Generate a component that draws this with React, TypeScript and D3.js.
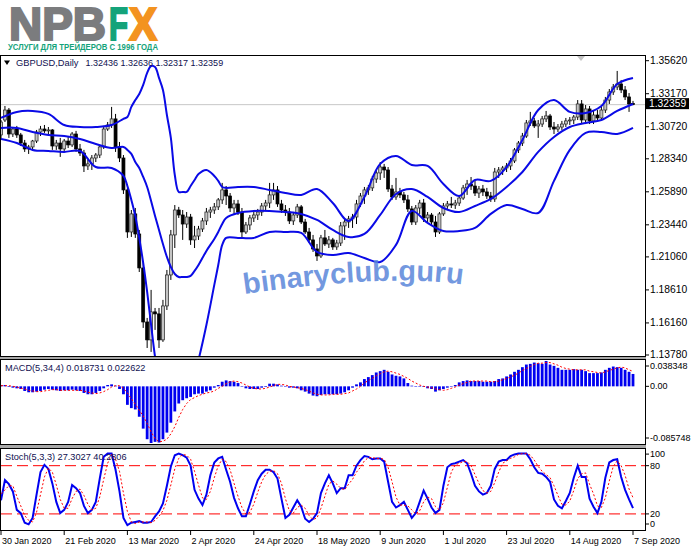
import React, { useEffect, useRef } from 'react';
import * as d3 from 'd3';

// Daily bars, one row per bar: open, high, low, close
const ohlc: [number, number, number, number][] = [
  [1.3011, 1.3122, 1.2974, 1.3107], [1.3122, 1.3226, 1.3107, 1.3196], [1.3196, 1.3211, 1.2989, 1.3018],
  [1.3018, 1.3070, 1.2996, 1.3055], [1.3055, 1.3078, 1.2989, 1.3011], [1.3011, 1.3026, 1.2929, 1.2951],
  [1.2951, 1.2974, 1.2885, 1.2907], [1.2907, 1.2937, 1.2870, 1.2922], [1.2922, 1.2974, 1.2900, 1.2966],
  [1.2966, 1.3048, 1.2951, 1.3033], [1.3033, 1.3078, 1.3003, 1.3055], [1.3055, 1.3085, 1.3026, 1.3041],
  [1.3041, 1.3070, 1.3011, 1.3048], [1.3048, 1.3055, 1.2900, 1.2929], [1.2929, 1.2974, 1.2900, 1.2951],
  [1.2951, 1.2989, 1.2848, 1.2907], [1.2907, 1.2981, 1.2892, 1.2966], [1.2966, 1.2996, 1.2914, 1.2937],
  [1.2937, 1.3033, 1.2922, 1.3018], [1.3018, 1.3041, 1.2885, 1.2907], [1.2907, 1.2944, 1.2855, 1.2877],
  [1.2877, 1.2900, 1.2736, 1.2781], [1.2781, 1.2825, 1.2751, 1.2796], [1.2796, 1.2862, 1.2751, 1.2840],
  [1.2840, 1.2877, 1.2810, 1.2862], [1.2862, 1.2937, 1.2840, 1.2922], [1.2922, 1.3078, 1.2907, 1.3055],
  [1.3055, 1.3107, 1.3041, 1.3085], [1.3085, 1.3219, 1.3063, 1.3130], [1.3130, 1.3167, 1.2885, 1.2922],
  [1.2922, 1.2959, 1.2810, 1.2840], [1.2840, 1.2862, 1.2573, 1.2603], [1.2603, 1.2647, 1.2247, 1.2291],
  [1.2291, 1.2454, 1.2254, 1.2425], [1.2425, 1.2469, 1.2247, 1.2276], [1.2276, 1.2306, 1.1994, 1.2024],
  [1.2024, 1.2068, 1.1579, 1.1623], [1.1623, 1.1653, 1.1430, 1.1490], [1.1490, 1.1861, 1.1401, 1.1698],
  [1.1698, 1.1727, 1.1564, 1.1683], [1.1683, 1.1727, 1.1430, 1.1490], [1.1490, 1.1787, 1.1475, 1.1742],
  [1.1742, 1.2009, 1.1712, 1.1972], [1.1972, 1.2306, 1.1935, 1.2269], [1.2269, 1.2491, 1.2172, 1.2454],
  [1.2454, 1.2477, 1.2395, 1.2417], [1.2417, 1.2454, 1.2232, 1.2350], [1.2350, 1.2439, 1.2321, 1.2402],
  [1.2402, 1.2425, 1.2195, 1.2232], [1.2232, 1.2336, 1.2172, 1.2261], [1.2261, 1.2336, 1.2232, 1.2313],
  [1.2313, 1.2395, 1.2291, 1.2373], [1.2373, 1.2469, 1.2343, 1.2439], [1.2439, 1.2477, 1.2395, 1.2454],
  [1.2454, 1.2506, 1.2425, 1.2477], [1.2477, 1.2543, 1.2454, 1.2529], [1.2529, 1.2655, 1.2499, 1.2603],
  [1.2603, 1.2632, 1.2491, 1.2558], [1.2558, 1.2580, 1.2439, 1.2469], [1.2469, 1.2529, 1.2425, 1.2499],
  [1.2499, 1.2529, 1.2417, 1.2439], [1.2439, 1.2469, 1.2247, 1.2291], [1.2291, 1.2365, 1.2276, 1.2343],
  [1.2343, 1.2417, 1.2306, 1.2395], [1.2395, 1.2447, 1.2365, 1.2417], [1.2417, 1.2462, 1.2380, 1.2439],
  [1.2439, 1.2506, 1.2410, 1.2484], [1.2484, 1.2529, 1.2454, 1.2506], [1.2506, 1.2655, 1.2469, 1.2566],
  [1.2566, 1.2655, 1.2529, 1.2603], [1.2603, 1.2632, 1.2477, 1.2499], [1.2499, 1.2529, 1.2432, 1.2454],
  [1.2454, 1.2491, 1.2410, 1.2439], [1.2439, 1.2469, 1.2350, 1.2373], [1.2373, 1.2432, 1.2343, 1.2417],
  [1.2417, 1.2499, 1.2395, 1.2477], [1.2477, 1.2491, 1.2350, 1.2365], [1.2365, 1.2388, 1.2276, 1.2291],
  [1.2291, 1.2321, 1.2209, 1.2232], [1.2232, 1.2269, 1.2143, 1.2165], [1.2165, 1.2202, 1.2076, 1.2113],
  [1.2113, 1.2269, 1.2098, 1.2247], [1.2247, 1.2306, 1.2187, 1.2202], [1.2202, 1.2261, 1.2172, 1.2232],
  [1.2232, 1.2247, 1.2158, 1.2180], [1.2180, 1.2232, 1.2158, 1.2209], [1.2209, 1.2365, 1.2187, 1.2336],
  [1.2336, 1.2395, 1.2232, 1.2365], [1.2365, 1.2410, 1.2321, 1.2388], [1.2388, 1.2425, 1.2321, 1.2402],
  [1.2402, 1.2529, 1.2350, 1.2499], [1.2499, 1.2580, 1.2477, 1.2558], [1.2558, 1.2625, 1.2499, 1.2603],
  [1.2603, 1.2640, 1.2566, 1.2618], [1.2618, 1.2707, 1.2595, 1.2684], [1.2684, 1.2751, 1.2655, 1.2729],
  [1.2729, 1.2810, 1.2677, 1.2773], [1.2773, 1.2796, 1.2692, 1.2751], [1.2751, 1.2773, 1.2588, 1.2610],
  [1.2610, 1.2640, 1.2529, 1.2551], [1.2551, 1.2692, 1.2529, 1.2588], [1.2588, 1.2618, 1.2543, 1.2566],
  [1.2566, 1.2588, 1.2506, 1.2529], [1.2529, 1.2566, 1.2439, 1.2462], [1.2462, 1.2484, 1.2343, 1.2365],
  [1.2365, 1.2491, 1.2343, 1.2469], [1.2469, 1.2529, 1.2425, 1.2506], [1.2506, 1.2536, 1.2365, 1.2395],
  [1.2395, 1.2439, 1.2365, 1.2417], [1.2417, 1.2432, 1.2343, 1.2365], [1.2365, 1.2410, 1.2254, 1.2291],
  [1.2291, 1.2439, 1.2276, 1.2425], [1.2425, 1.2506, 1.2410, 1.2484], [1.2484, 1.2521, 1.2462, 1.2499],
  [1.2499, 1.2551, 1.2469, 1.2491], [1.2491, 1.2529, 1.2462, 1.2506], [1.2506, 1.2558, 1.2484, 1.2543],
  [1.2543, 1.2640, 1.2529, 1.2618], [1.2618, 1.2677, 1.2566, 1.2647], [1.2647, 1.2699, 1.2603, 1.2632],
  [1.2632, 1.2670, 1.2558, 1.2580], [1.2580, 1.2632, 1.2543, 1.2610], [1.2610, 1.2640, 1.2558, 1.2588],
  [1.2588, 1.2618, 1.2536, 1.2558], [1.2558, 1.2588, 1.2514, 1.2536], [1.2536, 1.2766, 1.2514, 1.2736],
  [1.2736, 1.2773, 1.2692, 1.2751], [1.2751, 1.2781, 1.2714, 1.2766], [1.2766, 1.2803, 1.2736, 1.2781],
  [1.2781, 1.2840, 1.2751, 1.2818], [1.2818, 1.2914, 1.2803, 1.2900], [1.2900, 1.2966, 1.2877, 1.2951],
  [1.2951, 1.3026, 1.2929, 1.3003], [1.3003, 1.3122, 1.2989, 1.3100], [1.3100, 1.3182, 1.3078, 1.3115],
  [1.3115, 1.3137, 1.3063, 1.3078], [1.3078, 1.3122, 1.2989, 1.3092], [1.3092, 1.3152, 1.3070, 1.3130],
  [1.3130, 1.3189, 1.3107, 1.3152], [1.3152, 1.3167, 1.3048, 1.3070], [1.3070, 1.3107, 1.3018, 1.3055],
  [1.3055, 1.3092, 1.3033, 1.3070], [1.3070, 1.3115, 1.3048, 1.3092], [1.3092, 1.3137, 1.3070, 1.3115],
  [1.3115, 1.3144, 1.3085, 1.3122], [1.3122, 1.3159, 1.3092, 1.3144], [1.3144, 1.3270, 1.3122, 1.3241],
  [1.3241, 1.3270, 1.3092, 1.3122], [1.3122, 1.3233, 1.3092, 1.3204], [1.3204, 1.3226, 1.3092, 1.3115],
  [1.3115, 1.3196, 1.3092, 1.3159], [1.3159, 1.3196, 1.3107, 1.3137], [1.3137, 1.3226, 1.3122, 1.3196],
  [1.3196, 1.3293, 1.3174, 1.3270], [1.3270, 1.3352, 1.3241, 1.3330], [1.3330, 1.3389, 1.3308, 1.3367],
  [1.3367, 1.3486, 1.3345, 1.3389], [1.3389, 1.3419, 1.3322, 1.3345], [1.3345, 1.3374, 1.3270, 1.3293],
  [1.3293, 1.3322, 1.3182, 1.3241], [1.32436, 1.32636, 1.32317, 1.32359],
];

// Bollinger bands, read at these bar numbers
const bbBars = [0, 4, 8, 12, 16, 20, 24, 28, 31, 32, 33, 34, 35, 36, 37, 38, 39, 40, 41, 42, 43, 44, 45, 46, 47, 48, 49, 50,
  52, 54, 55, 56, 57, 60, 64, 68, 72, 76, 80, 84, 88, 92, 96, 100, 104, 108, 112, 116, 120, 124, 128, 132, 136, 140, 144,
  148, 152, 156, 160];
const bbUpper = [1.3137, 1.3182, 1.3189, 1.3167, 1.3085, 1.3070, 1.3070, 1.3085, 1.3130, 1.3144, 1.3219, 1.3270, 1.3315,
  1.3382, 1.3471, 1.3523, 1.3515, 1.3434, 1.3345, 1.3159, 1.2989, 1.2714, 1.2588, 1.2588, 1.2588, 1.2632, 1.2677, 1.2721,
  1.2751, 1.2707, 1.2670, 1.2625, 1.2618, 1.2625, 1.2625, 1.2603, 1.2580, 1.2566, 1.2610, 1.2506, 1.2373, 1.2551, 1.2796,
  1.2855, 1.2788, 1.2781, 1.2647, 1.2558, 1.2677, 1.2670, 1.2773, 1.2974, 1.3196, 1.3270, 1.3182, 1.3174, 1.3226, 1.3389,
  1.3434];
const bbMiddle = [1.3063, 1.3063, 1.3033, 1.3011, 1.3003, 1.2981, 1.2944, 1.2914, 1.2922, 1.2900, 1.2870, 1.2810, 1.2766,
  1.2699, 1.2625, 1.2521, 1.2410, 1.2306, 1.2202, 1.2106, 1.2031, 1.1979, 1.1957, 1.1957, 1.1957, 1.1965, 1.2002, 1.2046,
  1.2150, 1.2239, 1.2291, 1.2350, 1.2395, 1.2432, 1.2447, 1.2447, 1.2439, 1.2425, 1.2380, 1.2306, 1.2254, 1.2276, 1.2417,
  1.2573, 1.2610, 1.2551, 1.2469, 1.2439, 1.2484, 1.2536, 1.2625, 1.2736, 1.2885, 1.2996, 1.3070, 1.3100, 1.3122, 1.3189,
  1.3241];
const bbLower = [1.2981, 1.2951, 1.2900, 1.2892, 1.2885, 1.2892, 1.2773, 1.2766, 1.2707, 1.2632, 1.2529, 1.2410, 1.2247,
  1.2061, 1.1846, 1.1601, 1.1364, 1.1193, 1.1059, 1.0970, 1.0926, 1.0911, 1.0926, 1.0970, 1.1045, 1.1133, 1.1230, 1.1341,
  1.1601, 1.1898, 1.2046, 1.2195, 1.2247, 1.2247, 1.2247, 1.2291, 1.2291, 1.2284, 1.2143, 1.2120, 1.2135, 1.2098, 1.2068,
  1.2195, 1.2447, 1.2358, 1.2298, 1.2298, 1.2321, 1.2425, 1.2491, 1.2462, 1.2432, 1.2670, 1.2900, 1.3026, 1.3033, 1.3018,
  1.3063];

// MACD(5,34,4)
const macdHist = [
  0.002, 0.002, -0.001, -0.002, -0.003, -0.004, -0.007, -0.009, -0.009, -0.008,
  -0.007, -0.005, -0.004, -0.005, -0.006, -0.007, -0.006, -0.006, -0.005, -0.006,
  -0.007, -0.010, -0.012, -0.012, -0.010, -0.007, -0.003, 0.002, 0.003, 0.001,
  -0.004, -0.012, -0.028, -0.033, -0.035, -0.046, -0.064, -0.080, -0.085748, -0.084,
  -0.085, -0.080, -0.070, -0.055, -0.038, -0.026, -0.021, -0.018, -0.016, -0.012,
  -0.011, -0.011, -0.008, -0.006, -0.002, 0.002, 0.007, 0.009, 0.008, 0.007,
  0.005, 0.000, -0.003, -0.004, -0.004, -0.004, -0.002, -0.001, 0.004, 0.004,
  0.003, 0.001, 0.000, -0.002, -0.002, -0.003, -0.006, -0.008, -0.011, -0.014,
  -0.015, -0.013, -0.012, -0.012, -0.012, -0.012, -0.011, -0.009, -0.006, -0.002,
  0.003, 0.006, 0.011, 0.014, 0.017, 0.021, 0.023, 0.025, 0.022, 0.018,
  0.016, 0.015, 0.012, 0.005, 0.001, 0.000, 0.000, -0.001, -0.003, -0.004,
  -0.008, -0.006, -0.004, -0.002, 0.000, 0.002, 0.006, 0.008, 0.009, 0.008,
  0.008, 0.008, 0.007, 0.007, 0.007, 0.008, 0.011, 0.012, 0.015, 0.018,
  0.022, 0.025, 0.029, 0.033, 0.034, 0.036, 0.035, 0.034, 0.038348, 0.033,
  0.031, 0.028, 0.025, 0.025, 0.025, 0.026, 0.025, 0.025, 0.023, 0.020,
  0.020, 0.020, 0.021, 0.025, 0.028, 0.030, 0.029, 0.028, 0.025, 0.022,
  0.018731,
];
const macdSignal = [
  0.001, 0.001, 0.001, 0.000, -0.001, -0.003, -0.004, -0.006, -0.007, -0.008,
  -0.008, -0.007, -0.006, -0.005, -0.005, -0.006, -0.006, -0.006, -0.006, -0.006,
  -0.006, -0.007, -0.009, -0.010, -0.011, -0.010, -0.008, -0.005, -0.001, 0.001,
  0.001, -0.003, -0.010, -0.019, -0.027, -0.036, -0.045, -0.056, -0.069, -0.079,
  -0.084, -0.083, -0.080, -0.072, -0.061, -0.047, -0.035, -0.026, -0.020, -0.017,
  -0.014, -0.012, -0.010, -0.009, -0.007, -0.003, 0.000, 0.004, 0.007, 0.008,
  0.007, 0.005, 0.002, -0.001, -0.003, -0.004, -0.004, -0.003, -0.001, 0.001,
  0.003, 0.003, 0.002, 0.000, -0.001, -0.002, -0.003, -0.005, -0.007, -0.010,
  -0.012, -0.013, -0.013, -0.013, -0.012, -0.012, -0.012, -0.011, -0.010, -0.007,
  -0.004, 0.000, 0.005, 0.009, 0.012, 0.016, 0.019, 0.022, 0.023, 0.022,
  0.020, 0.018, 0.015, 0.012, 0.008, 0.005, 0.002, 0.000, -0.001, -0.002,
  -0.004, -0.005, -0.006, -0.005, -0.003, -0.001, 0.002, 0.004, 0.006, 0.008,
  0.008, 0.008, 0.008, 0.008, 0.007, 0.007, 0.008, 0.010, 0.012, 0.014,
  0.017, 0.020, 0.024, 0.027, 0.030, 0.033, 0.035, 0.035, 0.036, 0.036,
  0.034, 0.032, 0.029, 0.027, 0.026, 0.025, 0.025, 0.025, 0.025, 0.023,
  0.022, 0.021, 0.020, 0.022, 0.024, 0.026, 0.028, 0.029, 0.028, 0.025,
  0.022622,
];

// Stoch(5,3,3)
const stochMain = [
  37, 62, 57, 48, 25, 21, 9, 7, 15, 44, 72, 81, 76, 58, 35, 21, 25, 35, 56, 52,
  46, 30, 21, 25, 35, 64, 91, 95, 95, 75, 48, 15, 6, 9, 10, 11, 9, 9, 10, 17,
  23, 33, 55, 79, 93, 95, 93, 90, 80, 50, 39, 31, 44, 68, 84, 89, 91, 75, 60, 40,
  27, 17, 17, 32, 48, 62, 70, 75, 75, 72, 64, 39, 15, 19, 28, 37, 29, 14, 10, 14,
  21, 46, 58, 68, 58, 46, 52, 52, 68, 68, 80, 87, 92, 91, 88, 89, 89, 85, 60, 35,
  28, 31, 35, 25, 15, 21, 35, 49, 39, 28, 21, 25, 55, 78, 82, 83, 85, 87, 83, 70,
  55, 48, 44, 46, 55, 76, 85, 87, 87, 92, 94, 95, 95, 95, 88, 78, 71, 70, 66, 60,
  38, 30, 27, 36, 46, 65, 80, 66, 66, 39, 29, 21, 35, 65, 84, 87, 88, 66, 50, 38,
  27.3027,
];
const stochSignal = [
  45, 50, 55, 55, 42, 30, 18, 12, 10, 22, 44, 66, 77, 72, 56, 38, 27, 27, 39, 48,
  51, 43, 32, 25, 27, 41, 63, 83, 94, 88, 73, 46, 23, 10, 8, 10, 10, 10, 9, 12,
  17, 24, 37, 56, 76, 89, 94, 93, 88, 73, 56, 40, 38, 48, 65, 80, 88, 85, 75, 58,
  42, 28, 20, 22, 32, 47, 60, 69, 73, 74, 70, 58, 39, 24, 21, 28, 31, 27, 18, 13,
  15, 27, 42, 57, 61, 57, 52, 50, 57, 63, 72, 78, 86, 90, 90, 89, 89, 88, 78, 60,
  41, 31, 31, 30, 25, 20, 24, 35, 41, 39, 29, 25, 34, 53, 72, 81, 83, 85, 85, 80,
  69, 58, 49, 46, 48, 59, 72, 83, 86, 89, 91, 94, 95, 95, 93, 87, 79, 73, 69, 65,
  55, 43, 32, 31, 36, 49, 64, 70, 71, 57, 45, 30, 28, 40, 61, 79, 86, 80, 68, 51,
  40.2806,
];

const priceTicks = [1.3562, 1.3317, 1.3072, 1.2834, 1.2589, 1.2344, 1.2106, 1.1861, 1.1616, 1.1378];
const lastPrice = 1.32359;
const macdTicks = ['0.038348', '0.00', '-0.085748'];
const stochTicks = [100, 80, 20, 0];
const stochLevels = [80, 20];
const xTickBars = [0, 16, 32, 48, 64, 80, 96, 112, 128, 144, 160];
const xTickLabels = ['30 Jan 2020', '21 Feb 2020', '13 Mar 2020', '2 Apr 2020', '24 Apr 2020', '18 May 2020',
  '9 Jun 2020', '1 Jul 2020', '23 Jul 2020', '14 Aug 2020', '7 Sep 2020'];

const W = 691;
const H = 549;

const App: React.FC = () => {
  const svgRef = useRef<SVGSVGElement | null>(null);

  useEffect(() => {
    const svg = d3.select(svgRef.current);
    svg.selectAll('*').remove();

    const font = "'Liberation Sans', Arial, sans-serif";
    const right = 645;
    const main = { top: 55, bottom: 357 };
    const macd = { top: 359, bottom: 445 };
    const stoch = { top: 448, bottom: 531 };

    const x = d3.scaleLinear().domain([0, 160]).range([1, 633]);
    const y = d3.scaleLinear().domain([1.13631, 1.36043]).range([main.bottom, main.top]);
    const yM = d3.scaleLinear().domain([-0.085748, 0.038348]).range([443, 361]);
    const yS = d3.scaleLinear().domain([0, 100]).range([530, 449.6]);

    svg.append('rect').attr('width', W).attr('height', H).attr('fill', '#fff');

    // logo: heavy letters, drawn with a matching stroke to thicken them
    const logo = (t: string, x0: number, w: number, c: string) =>
      svg.append('text').attr('x', x0).attr('y', 40).attr('font-family', font).attr('font-weight', 700)
        .attr('font-size', 47).attr('fill', c).attr('stroke', c).attr('stroke-width', 2.2)
        .attr('textLength', w).attr('lengthAdjust', 'spacingAndGlyphs').text(t);
    logo('NPB', 9, 97, '#7b7c7e');
    logo('F', 109, 19, '#14a37a');
    logo('X', 129, 28, '#f39320');
    svg.append('text').attr('x', 8).attr('y', 50).attr('font-family', font).attr('font-weight', 700)
      .attr('font-size', 9.8).attr('fill', '#14a37a').attr('textLength', 150).attr('lengthAdjust', 'spacingAndGlyphs')
      .text('УСЛУГИ ДЛЯ ТРЕЙДЕРОВ С 1996 ГОДА');

    // panel frames
    svg.append('rect').attr('x', 0).attr('y', main.bottom).attr('width', right + 1).attr('height', 2).attr('fill', '#a8a8a8');
    svg.append('rect').attr('x', 0).attr('y', macd.bottom).attr('width', right + 1).attr('height', 3).attr('fill', '#a8a8a8');
    [main, macd, stoch].forEach(p => {
      svg.append('rect').attr('x', 0.5).attr('y', p.top + 0.5).attr('width', right)
        .attr('height', p.bottom - p.top - 1).attr('fill', '#fff').attr('stroke', '#000');
    });

    const defs = svg.append('defs');
    [['clipMain', main], ['clipMacd', macd], ['clipStoch', stoch]].forEach(([id, p]: any) => {
      defs.append('clipPath').attr('id', id).append('rect')
        .attr('x', 1).attr('y', p.top + 1).attr('width', right - 1).attr('height', p.bottom - p.top - 2);
    });

    // ---- main panel ----
    const g = svg.append('g').attr('clip-path', 'url(#clipMain)');
    g.append('line').attr('x1', 1).attr('x2', right).attr('y1', y(lastPrice)).attr('y2', y(lastPrice))
      .attr('stroke', '#c8c8c8').attr('stroke-width', 1);

    ohlc.forEach(([o, h, l, c], i) => {
      const cx = x(i);
      g.append('line').attr('x1', cx).attr('x2', cx).attr('y1', y(h)).attr('y2', y(l))
        .attr('stroke', '#000').attr('stroke-width', 1);
      const top = y(Math.max(o, c));
      const bot = y(Math.min(o, c));
      const bull = c >= o;
      g.append('rect').attr('x', cx - 1.5).attr('y', top).attr('width', 3).attr('height', Math.max(bot - top, 0.8))
        .attr('fill', bull ? '#c4c4c4' : '#000').attr('stroke', bull ? '#222' : '#000').attr('stroke-width', 0.7);
    });

    const band = d3.line<number>().x((_, k) => x(bbBars[k])).y(d => y(d)).curve(d3.curveCatmullRom.alpha(0.5));
    [bbUpper, bbMiddle, bbLower].forEach(s => {
      g.append('path').attr('d', band(s) as string).attr('fill', 'none').attr('stroke', '#0a0ae6').attr('stroke-width', 2);
    });

    // watermark
    defs.append('path').attr('id', 'wmPath').attr('d', 'M 244 294 Q 400 272 470 286');
    svg.append('text').attr('font-family', font).attr('font-weight', 700).attr('font-size', 29)
      .attr('fill', '#5a86da').attr('fill-opacity', 0.85)
      .append('textPath').attr('href', '#wmPath').text('binaryclub.guru');

    // title
    svg.append('path').attr('d', 'M4,60.5 L10,60.5 L7,65 Z').attr('fill', '#000');
    svg.append('text').attr('x', 16).attr('y', 63).attr('dominant-baseline', 'central').attr('font-family', font)
      .attr('font-size', 9.3).attr('fill', '#101050').text('GBPUSD,Daily');
    svg.append('text').attr('x', 85.5).attr('y', 63).attr('dominant-baseline', 'central').attr('font-family', font)
      .attr('font-size', 9).attr('fill', '#101050').text(ohlc[ohlc.length - 1].map(v => v.toFixed(5)).join(' '));

    // shift marker
    svg.append('path').attr('d', 'M577,56 L585,56 L581,61 Z').attr('fill', '#c4c4c4');

    // price axis
    priceTicks.forEach(p => {
      svg.append('line').attr('x1', right).attr('x2', right + 4).attr('y1', y(p)).attr('y2', y(p)).attr('stroke', '#000');
      svg.append('text').attr('x', 650).attr('y', y(p)).attr('dominant-baseline', 'central').attr('font-family', font)
        .attr('font-size', 10.3).attr('fill', '#000').text(p.toFixed(5));
    });
    svg.append('rect').attr('x', 646).attr('y', y(lastPrice) - 6.5).attr('width', 43).attr('height', 11).attr('fill', '#000');
    svg.append('text').attr('x', 649).attr('y', y(lastPrice) - 1).attr('dominant-baseline', 'central').attr('font-family', font)
      .attr('font-size', 10.3).attr('fill', '#fff').text(lastPrice.toFixed(5));

    // ---- MACD panel ----
    const gm = svg.append('g').attr('clip-path', 'url(#clipMacd)');
    macdHist.forEach((v, i) => {
      gm.append('rect').attr('x', x(i) - 1.4).attr('width', 2.8)
        .attr('y', Math.min(yM(0), yM(v))).attr('height', Math.max(Math.abs(yM(v) - yM(0)), 0.5))
        .attr('fill', '#0000f0');
    });
    const sig = d3.line<number>().x((_, i) => x(i)).y(d => yM(d));
    gm.append('path').attr('d', sig(macdSignal) as string).attr('fill', 'none').attr('stroke', '#ff0000')
      .attr('stroke-width', 1).attr('stroke-dasharray', '2,2');
    svg.append('text').attr('x', 5).attr('y', 368).attr('dominant-baseline', 'central').attr('font-family', font)
      .attr('font-size', 9.2).attr('fill', '#101050')
      .text(`MACD(5,34,4) ${macdHist[macdHist.length - 1].toFixed(6)} ${macdSignal[macdSignal.length - 1].toFixed(6)}`);
    const macdLabelY = [yM(0.038348) + 5, yM(0), yM(-0.085748) - 5];
    macdTicks.forEach((t, k) => {
      svg.append('line').attr('x1', right).attr('x2', right + 4).attr('y1', macdLabelY[k]).attr('y2', macdLabelY[k]).attr('stroke', '#000');
      svg.append('text').attr('x', 650).attr('y', macdLabelY[k]).attr('dominant-baseline', 'central').attr('font-family', font)
        .attr('font-size', 9).attr('fill', '#000').text(t);
    });

    // ---- Stochastic panel ----
    const gs = svg.append('g').attr('clip-path', 'url(#clipStoch)');
    stochLevels.forEach(v => {
      gs.append('line').attr('x1', 1).attr('x2', right).attr('y1', yS(v)).attr('y2', yS(v))
        .attr('stroke', '#ff0000').attr('stroke-width', 1).attr('stroke-dasharray', '11,5');
    });
    const sline = d3.line<number>().x((_, i) => x(i)).y(d => yS(d));
    gs.append('path').attr('d', sline(stochMain) as string).attr('fill', 'none').attr('stroke', '#0000f0').attr('stroke-width', 2);
    gs.append('path').attr('d', sline(stochSignal) as string).attr('fill', 'none').attr('stroke', '#ff0000')
      .attr('stroke-width', 1).attr('stroke-dasharray', '2,2');
    svg.append('text').attr('x', 5).attr('y', 457).attr('dominant-baseline', 'central').attr('font-family', font)
      .attr('font-size', 9.2).attr('fill', '#101050')
      .text(`Stoch(5,3,3) ${stochMain[stochMain.length - 1].toFixed(4)} ${stochSignal[stochSignal.length - 1].toFixed(4)}`);
    const stochLabelY = (v: number) => (v === 100 ? yS(v) + 4.5 : v === 0 ? yS(v) - 6 : yS(v));
    stochTicks.forEach(v => {
      svg.append('line').attr('x1', right).attr('x2', right + 4).attr('y1', stochLabelY(v)).attr('y2', stochLabelY(v)).attr('stroke', '#000');
      svg.append('text').attr('x', 650).attr('y', stochLabelY(v)).attr('dominant-baseline', 'central').attr('font-family', font)
        .attr('font-size', 9).attr('fill', '#000').text(String(v));
    });

    // ---- time axis ----
    xTickBars.forEach((b, k) => {
      svg.append('line').attr('x1', x(b)).attr('x2', x(b)).attr('y1', stoch.bottom).attr('y2', stoch.bottom + 4).attr('stroke', '#000');
      svg.append('text').attr('x', x(b) + 1).attr('y', 541).attr('dominant-baseline', 'central').attr('font-family', font)
        .attr('font-size', 9).attr('fill', '#000').text(xTickLabels[k]);
    });
  }, []);

  return (
    <svg ref={svgRef} width={W} height={H} style={{ position: 'absolute', left: 0, top: 0 }} />
  );
};

export default App;
